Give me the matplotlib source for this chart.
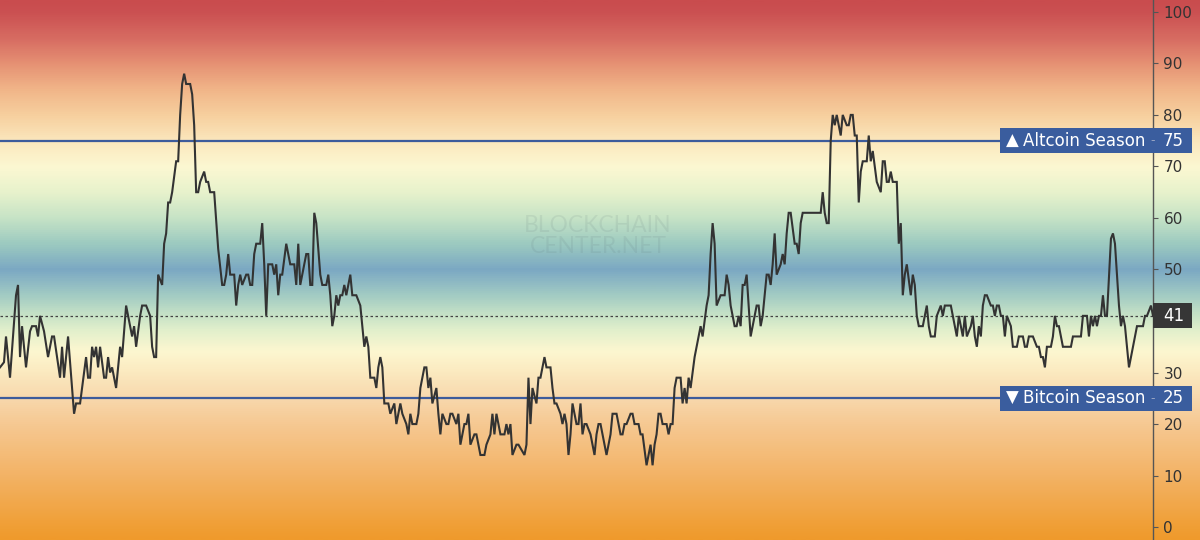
import matplotlib
matplotlib.use("Agg")
import matplotlib.pyplot as plt
import numpy as np
from matplotlib.colors import LinearSegmentedColormap
from matplotlib.patches import Rectangle
from matplotlib.transforms import blended_transform_factory

# ---------------- data ----------------
days = [0, 2, 3, 5, 8, 9, 10, 11, 13, 15, 16, 18, 19, 20, 22, 24, 26, 27, 30, 31,
        32, 34, 37, 38, 40, 43, 44, 45, 46, 47, 48, 49, 50, 52, 53, 54, 55, 56, 58, 60,
        61, 63, 64, 66, 67, 68, 70, 71, 73, 75, 76, 77, 78, 79, 81, 82, 83, 84, 85, 86,
        88, 89, 90, 91, 92, 93, 95, 96, 97, 98, 99, 100, 102, 103, 104, 105, 107, 109, 111, 112,
        113, 114, 115, 117, 118, 119, 120, 121, 123, 124, 125, 126, 127, 128, 130, 131, 132, 133, 134, 136,
        137, 138, 139, 140, 141, 143, 144, 145, 147, 148, 149, 150, 152, 153, 154, 155, 156, 157, 158, 160,
        161, 163, 164, 165, 166, 167, 168, 169, 170, 171, 172, 173, 175, 176, 178, 180, 181, 182, 183, 184,
        185, 187, 188, 189, 190, 191, 192, 194, 195, 197, 198, 199, 200, 201, 203, 204, 205, 206, 208, 209,
        210, 211, 212, 213, 214, 215, 216, 218, 219, 220, 221, 223, 224, 225, 226, 228, 229, 230, 231, 232,
        233, 234, 235, 237, 238, 239, 240, 242, 243, 245, 246, 247, 248, 249, 250, 252, 253, 254, 255, 256,
        258, 259, 262, 263, 264, 265, 266, 268, 269, 270, 271, 272, 273, 275, 276, 277, 278, 280, 281, 282,
        283, 284, 285, 286, 288, 289, 290, 291, 292, 293, 295, 297, 298, 299, 300, 302, 303, 304, 305, 306,
        308, 310, 311, 312, 313, 315, 316, 317, 319, 320, 321, 323, 324, 325, 326, 327, 328, 329, 330, 331,
        333, 334, 335, 336, 337, 338, 340, 341, 342, 343, 344, 345, 347, 348, 349, 350, 351, 353, 354, 355,
        356, 357, 358, 360, 362, 363, 364, 365, 367, 368, 369, 370, 371, 372, 373, 375, 376, 377, 378, 379,
        380, 381, 383, 384, 385, 386, 387, 388, 390, 391, 392, 393, 394, 395, 397, 398, 399, 400, 401, 410,
        411, 412, 413, 414, 415, 416, 417, 418, 419, 420, 421, 422, 423, 424, 425, 426, 427, 428, 429, 430,
        431, 433, 434, 435, 436, 437, 438, 440, 441, 442, 443, 444, 445, 446, 448, 449, 450, 451, 452, 453,
        455, 456, 457, 458, 459, 461, 463, 464, 465, 467, 468, 470, 471, 472, 475, 476, 477, 478, 479, 480,
        481, 482, 483, 485, 486, 487, 488, 489, 490, 491, 492, 493, 495, 496, 497, 498, 499, 500, 501, 502,
        503, 505, 506, 508, 509, 511, 512, 513, 514, 516, 518, 519, 520, 521, 522, 523, 525, 526, 527, 528,
        529, 530, 531, 535, 536, 540, 541, 543, 544, 545, 546, 547, 548, 549, 550, 551, 552, 553, 555, 556,
        557, 558, 559, 560, 561, 562, 564, 565, 566, 568, 571, 572, 573, 575, 576]

index_values = [31, 32, 37, 29, 45, 47, 33, 39, 31, 38, 39, 39, 37, 41, 38, 33, 37, 37, 29, 35,
                29, 37, 22, 24, 24, 33, 29, 29, 35, 33, 35, 31, 35, 29, 29, 33, 30, 31, 27, 35,
                33, 43, 41, 37, 39, 35, 41, 43, 43, 41, 35, 33, 33, 49, 47, 55, 57, 63, 63, 65,
                71, 71, 80, 86, 88, 86, 86, 84, 78, 65, 65, 67, 69, 67, 67, 65, 65, 54, 47, 47,
                49, 53, 49, 49, 43, 47, 49, 47, 49, 49, 47, 47, 53, 55, 55, 59, 51, 41, 51, 51,
                49, 51, 45, 49, 49, 55, 53, 51, 51, 47, 55, 47, 51, 53, 53, 47, 47, 61, 59, 49,
                47, 47, 49, 45, 39, 41, 45, 43, 45, 45, 47, 45, 49, 45, 45, 43, 39, 35, 37, 35,
                29, 29, 27, 31, 33, 31, 24, 24, 22, 24, 20, 22, 24, 22, 20, 18, 22, 20, 20, 22,
                27, 29, 31, 31, 27, 29, 24, 27, 22, 18, 22, 20, 20, 22, 22, 20, 22, 16, 18, 20,
                20, 22, 16, 18, 18, 16, 14, 14, 16, 18, 22, 18, 22, 20, 18, 18, 20, 18, 20, 14,
                16, 16, 14, 16, 29, 20, 27, 24, 29, 29, 31, 33, 31, 31, 27, 24, 24, 22, 20, 22,
                20, 14, 18, 24, 20, 20, 24, 18, 20, 20, 18, 14, 18, 20, 20, 16, 14, 16, 18, 22,
                22, 18, 18, 20, 20, 22, 22, 20, 20, 18, 18, 12, 14, 16, 12, 16, 18, 22, 22, 20,
                20, 18, 20, 20, 27, 29, 29, 24, 27, 24, 29, 27, 33, 35, 37, 39, 37, 43, 45, 53,
                59, 55, 43, 45, 45, 49, 47, 43, 39, 39, 41, 39, 47, 47, 49, 37, 39, 41, 43, 43,
                39, 41, 49, 49, 47, 51, 57, 49, 51, 53, 51, 57, 61, 61, 55, 55, 53, 59, 61, 61,
                65, 61, 59, 59, 75, 80, 78, 80, 78, 76, 80, 79, 78, 78, 80, 80, 76, 76, 63, 69,
                71, 71, 76, 71, 73, 70, 67, 65, 71, 71, 67, 67, 69, 67, 67, 55, 59, 45, 49, 51,
                45, 49, 47, 41, 39, 39, 43, 39, 37, 37, 41, 43, 41, 43, 43, 41, 39, 37, 41, 39,
                37, 41, 37, 39, 41, 37, 35, 39, 37, 43, 45, 45, 43, 43, 41, 43, 43, 41, 41, 37,
                41, 39, 35, 35, 37, 37, 35, 35, 37, 37, 35, 35, 33, 33, 31, 35, 35, 37, 41, 39,
                39, 37, 35, 35, 37, 37, 41, 41, 37, 41, 39, 41, 39, 41, 41, 45, 41, 41, 56, 57,
                55, 49, 43, 39, 41, 39, 31, 33, 35, 39, 39, 41, 41, 43, 41]

y_ticks = [0, 10, 20, 30, 40, 50, 60, 70, 80, 90, 100]
altcoin_level = 75
bitcoin_level = 25
current_value = index_values[-1]
altcoin_label = "Altcoin Season"
bitcoin_label = "Bitcoin Season"
watermark = "BLOCKCHAIN\nCENTER.NET"

# ---------------- figure ----------------
W, H = 1200, 540
fig = plt.figure(figsize=(W / 100, H / 100), dpi=100)
YMIN, YMAX = -2.5, 102.3

# gradient background over the whole figure
bg = fig.add_axes([0, 0, 1, 1], zorder=-1)
stops = [(-2.5, "#ef9a2c"), (0, "#f09f36"), (10, "#f3b366"), (20, "#f6c993"),
         (25, "#f8d8ad"), (30, "#fbeac0"), (34, "#fdf7d0"), (38, "#e3f0cc"),
         (41, "#c8e3c7"), (45, "#a2cbc3"), (50, "#7ba8c3"), (55, "#9ccac0"),
         (60, "#c6e3c6"), (65, "#e7f2cc"), (70, "#fcf8d2"), (75, "#fbe7bd"),
         (80, "#f7d09f"), (85, "#f1b689"), (90, "#e69274"), (95, "#d76c62"),
         (100, "#cb5152"), (102.3, "#c94c4e")]
pos = [(v - YMIN) / (YMAX - YMIN) for v, _ in stops]
cmap = LinearSegmentedColormap.from_list("season", list(zip(pos, [c for _, c in stops])))
grad = np.linspace(0, 1, 800).reshape(-1, 1)
bg.imshow(grad, cmap=cmap, aspect="auto", origin="lower",
          extent=(0, 1, YMIN, YMAX), interpolation="bilinear")
bg.set_xlim(0, 1)
bg.set_ylim(YMIN, YMAX)
bg.axis("off")

ax = fig.add_axes([0, 0, 1153 / W, 1])
ax.patch.set_alpha(0)
ax.set_xlim(days[0], days[-1])
ax.set_ylim(YMIN, YMAX)

for s in ["left", "top", "bottom"]:
    ax.spines[s].set_visible(False)
ax.spines["right"].set_color("#555555")
ax.spines["right"].set_linewidth(1.0)
ax.yaxis.tick_right()
ax.set_yticks(y_ticks)
# the 40 label sits under the current-value box in the reference
ax.set_yticklabels(["" if t == 40 else str(t) for t in y_ticks])
ax.tick_params(axis="y", direction="out", length=3.5, width=0.8, color="#555555",
               pad=4, labelsize=11, labelcolor="#333333")
ax.set_xticks([])

# watermark
fig.text(598 / W, 1 - 236 / H, watermark, ha="center", va="center",
         fontsize=16.5, fontfamily="Lato", fontweight="normal", color="#50606a",
         alpha=0.10, linespacing=0.95)

# reference lines
line_blue = "#3d5b9b"
ax.axhline(altcoin_level, color=line_blue, lw=1.6, zorder=3)
ax.axhline(bitcoin_level, color=line_blue, lw=1.6, zorder=3)
ax.axhline(current_value, color="#444444", lw=0.9, ls=(0, (2, 2)), zorder=3)

# series
ax.plot(days, index_values, color="#333333", lw=1.5, zorder=4, solid_joinstyle="miter")

# right-hand labels
tr = blended_transform_factory(fig.transFigure, ax.transData)
box_h = 25 / H * (YMAX - YMIN)
box_blue = "#3a5d9e"


def season_box(level, arrow, label):
    ax.add_patch(Rectangle((1000 / W, level - box_h / 2), 192 / W, box_h, transform=tr,
                           facecolor=box_blue, edgecolor="none", clip_on=False, zorder=10))
    ax.text(1012 / W, level, arrow, transform=tr, ha="center", va="center",
            color="white", fontsize=12, zorder=11, clip_on=False)
    ax.text(1023 / W, level, label, transform=tr, ha="left", va="center",
            color="white", fontsize=12, zorder=11, clip_on=False)
    ax.text(1153 / W, level, "-", transform=tr, ha="center", va="center",
            color="#9aa6c4", fontsize=9, zorder=11, clip_on=False)
    ax.text(1163 / W, level, str(level), transform=tr, ha="left", va="center",
            color="white", fontsize=12, zorder=11, clip_on=False)


season_box(altcoin_level, "\u25B2", altcoin_label)
season_box(bitcoin_level, "\u25BC", bitcoin_label)

ax.add_patch(Rectangle((1153 / W, current_value - box_h / 2), 39 / W, box_h, transform=tr,
                       facecolor="#363636", edgecolor="none", clip_on=False, zorder=10))
ax.text(1163 / W, current_value, str(current_value), transform=tr, ha="left", va="center",
        color="white", fontsize=12, zorder=11, clip_on=False)

fig.savefig("out.png", dpi=100)
